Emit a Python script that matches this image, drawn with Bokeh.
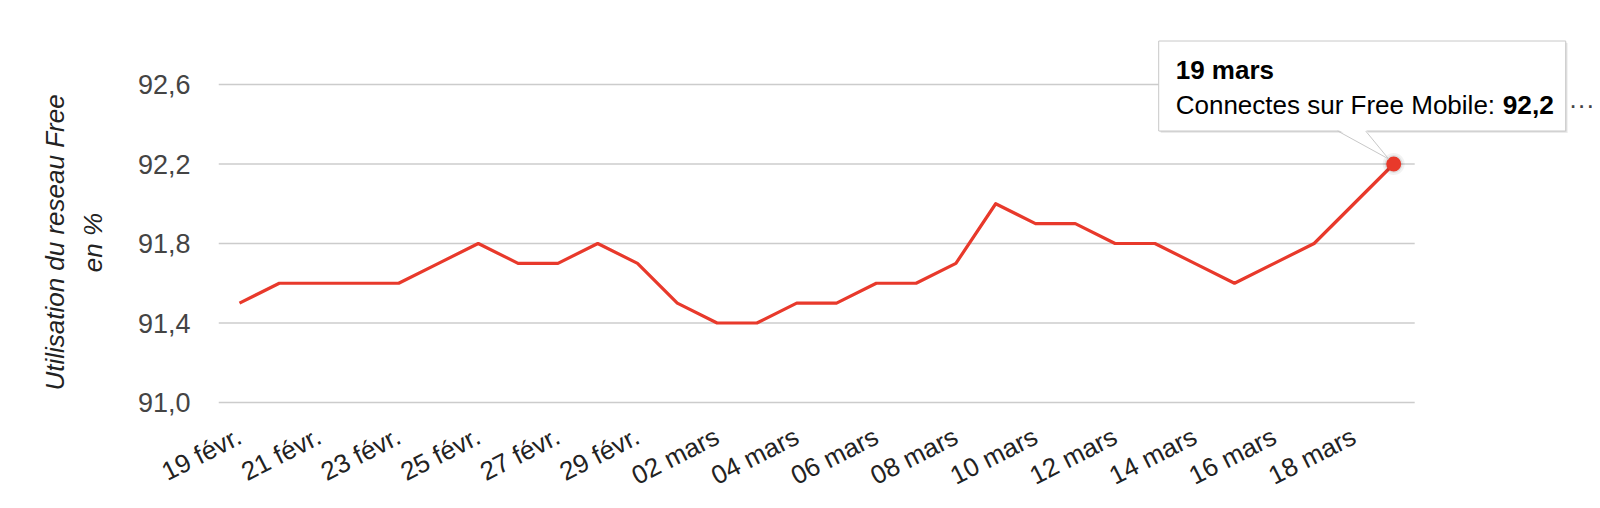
import math
from bokeh.plotting import figure
from bokeh.models import FixedTicker, CustomJSTickFormatter, Range1d
from bokeh.core.properties import value
from bokeh.embed import file_html
from bokeh.resources import INLINE

dates = ["19 févr.", "20 févr.", "21 févr.", "22 févr.", "23 févr.", "24 févr.",
         "25 févr.", "26 févr.", "27 févr.", "28 févr.", "29 févr.",
         "01 mars", "02 mars", "03 mars", "04 mars", "05 mars", "06 mars",
         "07 mars", "08 mars", "09 mars", "10 mars", "11 mars", "12 mars",
         "13 mars", "14 mars", "15 mars", "16 mars", "17 mars", "18 mars", "19 mars"]
values = [91.5, 91.6, 91.6, 91.6, 91.6, 91.7, 91.8, 91.7, 91.7, 91.8, 91.7,
          91.5, 91.4, 91.4, 91.5, 91.5, 91.6, 91.6, 91.7, 92.0, 91.9, 91.9,
          91.8, 91.8, 91.7, 91.6, 91.7, 91.8, 92.0, 92.2]
y_ticks = [91.0, 91.4, 91.8, 92.2, 92.6]
x_ticks = list(range(0, 30, 2))
series_name = "Connectes sur Free Mobile"
tooltip_title = "19 mars"
y_title = "Utilisation du reseau Free\nen %"

FONT = "Liberation Sans"
RED = "#e8392b"

BL, BT = 218, 30
FW, FH = 1592 - BL, 424
XS = 39.8          # px per index
YS = 198.75        # px per unit
BELOW = 52         # frame extends below the lowest gridline so that the
                   # axis title is centred on the tick span
x0 = -21 / XS
x1 = x0 + FW / XS
y0 = y_ticks[0] - BELOW / YS
y1 = y0 + FH / YS

idx = list(range(len(values)))

p = figure(frame_width=FW, frame_height=FH, output_backend="svg", toolbar_location=None,
           x_range=Range1d(x0, x1), y_range=Range1d(y0, y1),
           min_border_left=BL, min_border_right=0, min_border_top=BT,
           min_border_bottom=0)
p.outline_line_color = None
p.grid.visible = False
p.background_fill_color = "white"
p.border_fill_color = "white"

# axes
p.yaxis.ticker = FixedTicker(ticks=y_ticks)
p.yaxis.formatter = CustomJSTickFormatter(code="return tick.toFixed(1).replace('.', ',')")
p.xaxis.ticker = FixedTicker(ticks=x_ticks)
p.xaxis.formatter = CustomJSTickFormatter(args=dict(labels=dates),
                                          code="return labels[Math.round(tick)] || ''")
for ax in (p.xaxis, p.yaxis):
    ax.axis_line_color = None
    ax.major_tick_line_color = None
    ax.minor_tick_line_color = None
    ax.major_tick_out = 0
    ax.major_tick_in = 0
    ax.minor_tick_out = 0
    ax.major_label_text_font = FONT
p.yaxis.major_label_text_font_size = "27px"
p.xaxis.major_label_text_font_size = "26px"
p.yaxis.major_label_text_color = "#444444"
p.yaxis.major_label_standoff = 28
p.xaxis.major_label_text_color = "#222222"
p.xaxis.major_label_orientation = math.radians(27)
p.xaxis.major_label_standoff = 32 - BELOW

p.yaxis.axis_label = y_title
p.yaxis.axis_label_text_font = FONT
p.yaxis.axis_label_text_font_style = "italic"
p.yaxis.axis_label_text_font_size = "26px"
p.yaxis.axis_label_text_color = "#222222"
p.yaxis.axis_label_standoff = 27
p.yaxis.axis_label_text_line_height = 1.27

# gridlines
gx0 = x0
gx1 = (len(values) - 1) + 21 / XS
p.segment(x0=[gx0] * len(y_ticks), y0=y_ticks, x1=[gx1] * len(y_ticks), y1=y_ticks,
          line_color="#cccccc", line_width=1.3)

# series
p.line(idx, values, line_color=RED, line_width=3.2, line_join="round")

lx, ly = idx[-1], values[-1]
def dx(px):
    return px / XS
def dy(px):
    return px / YS

# highlighted point with soft shadow
p.scatter([lx], [ly], size=22, fill_color="black", fill_alpha=0.05, line_color=None)
p.scatter([lx], [ly], size=18, fill_color="black", fill_alpha=0.08, line_color=None)
p.scatter([lx], [ly], size=15, fill_color=RED, line_color=None)

# tooltip
bw, bh = 407, 90
bcx, bcy = -31.5, 78
p.rect(x=[lx + dx(bcx + 2)], y=[ly + dy(bcy - 2)], width=bw, height=bh,
       width_units="screen", height_units="screen",
       fill_color="black", fill_alpha=0.08, line_color=None)
p.rect(x=[lx + dx(bcx + 1)], y=[ly + dy(bcy - 1)], width=bw, height=bh,
       width_units="screen", height_units="screen",
       fill_color="black", fill_alpha=0.06, line_color=None)
p.rect(x=[lx + dx(bcx)], y=[ly + dy(bcy)], width=bw, height=bh,
       width_units="screen", height_units="screen",
       fill_color="white", line_color="#c8c8c8", line_width=1)
p.patch([lx + dx(-56), lx + dx(-5), lx + dx(-28)],
        [ly + dy(34.5), ly + dy(5), ly + dy(34.5)],
        fill_color="white", line_color=None)
p.multi_line([[lx + dx(-56), lx + dx(-5), lx + dx(-28)]],
             [[ly + dy(33), ly + dy(5), ly + dy(33)]],
             line_color="#c8c8c8", line_width=1)

val_txt = f"{ly:.1f}".replace(".", ",")
p.text(x=[lx], y=[ly], text=[tooltip_title], x_offset=-218, y_offset=-94,
       text_font=value(FONT), text_font_style="bold", text_font_size="26px",
       text_baseline="middle", text_align="left", text_color="#000000")
p.text(x=[lx], y=[ly], text=[series_name + ":"], x_offset=-218, y_offset=-59,
       text_font=value(FONT), text_font_size="26px",
       text_baseline="middle", text_align="left", text_color="#000000")
p.text(x=[lx], y=[ly], text=[val_txt], x_offset=109, y_offset=-59,
       text_font=value(FONT), text_font_style="bold", text_font_size="26.3px",
       text_baseline="middle", text_align="left", text_color="#000000")
p.text(x=[lx], y=[ly], text=["···"], x_offset=175, y_offset=-59,
       text_font=value(FONT), text_font_size="26px",
       text_baseline="middle", text_align="left", text_color="#444444")

open("out.html", "w").write(file_html(p, INLINE))
